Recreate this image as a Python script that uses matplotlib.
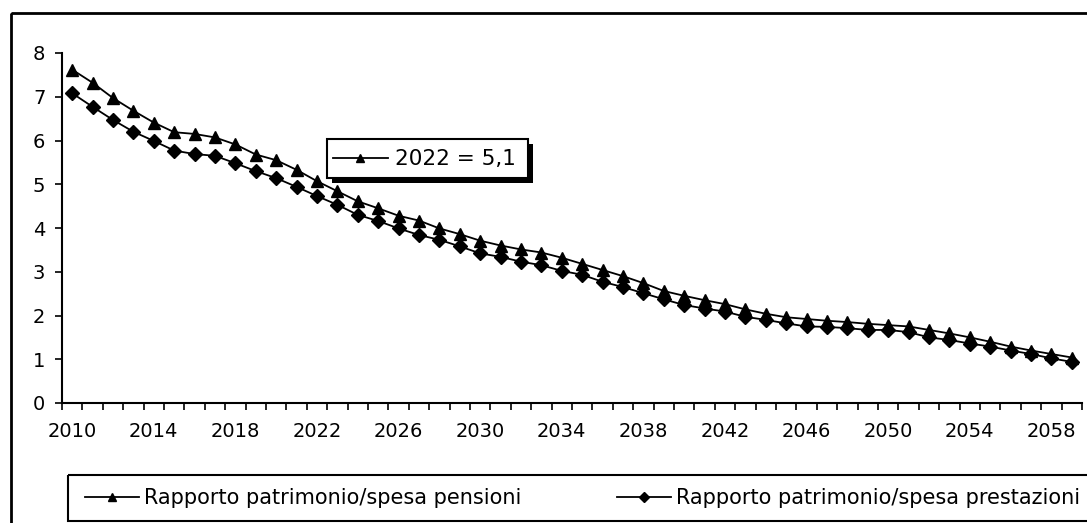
import numpy as np
import matplotlib
matplotlib.use("Agg")
import matplotlib.pyplot as plt
from matplotlib.lines import Line2D
from matplotlib.patches import Rectangle

# Data
years = np.arange(2010, 2060)
pensioni = [7.62, 7.32, 6.97, 6.68, 6.41, 6.19, 6.15, 6.07, 5.91, 5.68,
            5.55, 5.33, 5.07, 4.84, 4.61, 4.45, 4.28, 4.17, 3.99, 3.86,
            3.71, 3.60, 3.51, 3.44, 3.32, 3.18, 3.04, 2.90, 2.74, 2.56,
            2.45, 2.35, 2.26, 2.14, 2.04, 1.96, 1.92, 1.88, 1.85, 1.81,
            1.78, 1.75, 1.67, 1.59, 1.50, 1.40, 1.29, 1.20, 1.12, 1.04]
prestazioni = [7.08, 6.77, 6.47, 6.20, 5.99, 5.77, 5.69, 5.65, 5.48, 5.30,
               5.14, 4.94, 4.73, 4.53, 4.30, 4.16, 3.99, 3.84, 3.73, 3.58,
               3.42, 3.34, 3.23, 3.15, 3.02, 2.93, 2.77, 2.65, 2.51, 2.37,
               2.24, 2.16, 2.09, 1.97, 1.90, 1.82, 1.75, 1.74, 1.71, 1.67,
               1.67, 1.62, 1.50, 1.44, 1.36, 1.29, 1.20, 1.12, 1.02, 0.94]
label_years = years[::4]
y_ticks = list(range(0, 9))
labels = ["Rapporto patrimonio/spesa pensioni",
          "Rapporto patrimonio/spesa prestazioni"]
note = "2022 = 5,1"

W, H = 1087, 523
fs = 14        # tick labels
fs_note = 15.5
fs_leg = 15
fig = plt.figure(figsize=(W / 100, H / 100), dpi=100)
fig.patch.set_facecolor("white")

# main plot area (pixel box 62..1082 x 53..403)
ax = fig.add_axes([62 / W, 1 - 403 / H, (1082 - 62) / W, (403 - 53) / H])
ax.plot(years, pensioni, color="black", lw=1.3, marker="^", ms=8,
        markerfacecolor="black", markeredgecolor="black")
ax.plot(years, prestazioni, color="black", lw=1.3, marker="D", ms=7,
        markerfacecolor="black", markeredgecolor="black")

ax.set_xlim(years[0] - 0.5, years[-1] + 0.5)
ax.set_ylim(0, 8)
ax.set_yticks(y_ticks)
ax.set_yticklabels([str(v) for v in y_ticks], fontsize=fs)
ax.set_xticks(label_years)
ax.set_xticklabels([str(y) for y in label_years], fontsize=fs)
ax.set_xticks(np.arange(years[0] - 0.5, years[-1] + 1.0, 1.0), minor=True)
ax.tick_params(axis="x", which="major", length=0, pad=14)
ax.tick_params(axis="x", which="minor", length=5, width=1.2, direction="out")
ax.tick_params(axis="y", length=5, width=1.2, direction="out", pad=7)
for s in ["top", "right"]:
    ax.spines[s].set_visible(False)
for s in ["left", "bottom"]:
    ax.spines[s].set_linewidth(1.5)

# overlay in pixel coords for frames and the note box
ov = fig.add_axes([0, 0, 1, 1], zorder=5)
ov.set_xlim(0, W)
ov.set_ylim(H, 0)
ov.axis("off")
ov.patch.set_alpha(0)

# outer chart border (cut at right and bottom)
ov.add_patch(Rectangle((11, 13), W, H, fill=False, lw=2, edgecolor="black"))

# note box with black shadow
ov.add_patch(Rectangle((332, 144), 201, 39, facecolor="black", edgecolor="none"))
ov.add_patch(Rectangle((327, 139), 201, 39, facecolor="white", edgecolor="black", lw=1.5))
ov.plot([333, 388], [158, 158], color="black", lw=1.3)
ov.plot([360], [158], marker="^", ms=6, color="black")
ov.text(395, 159, note, fontsize=fs_note, va="center", ha="left")

# bottom legend frame
ov.add_patch(Rectangle((68, 475), W, 46, fill=False, lw=1.5, edgecolor="black"))
h1 = Line2D([], [], color="black", lw=1.3, marker="^", ms=6)
h2 = Line2D([], [], color="black", lw=1.3, marker="D", ms=5)
fig.legend([h1, h2], labels, loc="center left",
           bbox_to_anchor=(85 / W, 1 - 498 / H), ncol=2, frameon=False,
           fontsize=fs_leg, handlelength=2.6, handletextpad=0.23,
           columnspacing=4.6, borderaxespad=0, borderpad=0)

fig.savefig("out.png", dpi=100)
